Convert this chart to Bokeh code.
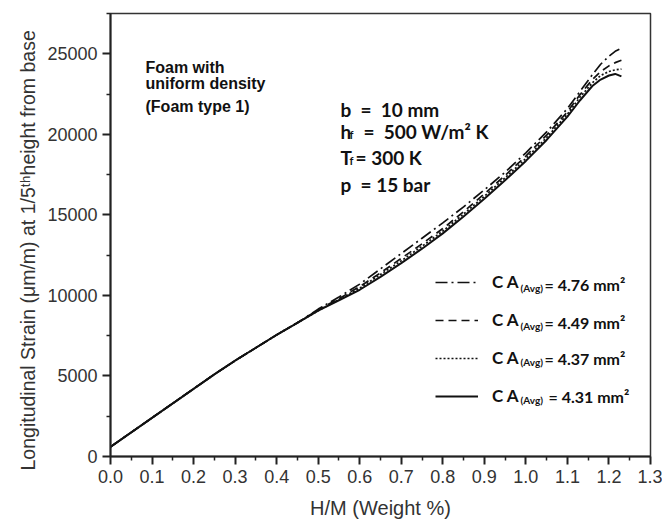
from bokeh.plotting import figure
from bokeh.models import (Range1d, Legend, LegendItem, Label, FixedTicker,
                          NumeralTickFormatter, Title)
from bokeh.embed import file_html
from bokeh.resources import INLINE

# H/M content (weight %)
hm = [0.0, 0.05, 0.1, 0.15, 0.2, 0.25, 0.3, 0.35, 0.4, 0.45, 0.5, 0.55, 0.6,
      0.65, 0.7, 0.75, 0.8, 0.85, 0.9, 0.95, 1.0, 1.05, 1.1, 1.13, 1.16,
      1.18, 1.2, 1.215, 1.23]

# Longitudinal strain (micro-strain) for each average cross-section area
strain_476 = [600, 1500, 2400, 3300, 4200, 5100, 5950, 6750, 7550, 8300, 9150,
              9900, 10700, 11650, 12600, 13550, 14500, 15500, 16550, 17650,
              18850, 20150, 21600, 22650, 23700, 24350, 24850, 25150, 25350]
strain_449 = [600, 1500, 2400, 3300, 4200, 5100, 5950, 6750, 7550, 8300, 9100,
              9800, 10550, 11400, 12300, 13200, 14150, 15200, 16300, 17450,
              18650, 19950, 21400, 22450, 23400, 23900, 24250, 24450, 24600]
strain_437 = [600, 1500, 2400, 3300, 4200, 5100, 5950, 6750, 7550, 8300, 9050,
              9750, 10450, 11300, 12150, 13050, 14000, 15050, 16150, 17300,
              18500, 19800, 21250, 22300, 23200, 23650, 23900, 24000, 24050]
strain_431 = [600, 1500, 2400, 3300, 4200, 5100, 5950, 6750, 7550, 8300, 9050,
              9700, 10350, 11150, 12000, 12900, 13850, 14900, 16000, 17150,
              18350, 19650, 21100, 22100, 23000, 23400, 23650, 23750, 23600]

areas = ["4.76", "4.49", "4.37", "4.31"]
dashes = ["12 4 2 4", "8 5", "2 2", "solid"]

x_ticks = [0.0, 0.1, 0.2, 0.3, 0.4, 0.5, 0.6, 0.7, 0.8, 0.9, 1.0, 1.1, 1.2, 1.3]
x_minor = [0.05, 0.15, 0.25, 0.35, 0.45, 0.55, 0.65, 0.75, 0.85, 0.95, 1.05,
           1.15, 1.25]
y_ticks = [0, 5000, 10000, 15000, 20000, 25000]
y_minor = [2500, 7500, 12500, 17500, 22500, 27500]

W, H = 662, 524
LEFT, RIGHT, TOP, BOTTOM = 110, 12, 13, 68
FRAME_BOTTOM = H - BOTTOM
NBSP = "\u00a0"

p = figure(width=W, height=H, output_backend="svg", toolbar_location=None,
           x_range=Range1d(0, 1.3), y_range=Range1d(0, 27500),
           min_border_left=LEFT, min_border_right=RIGHT,
           min_border_top=TOP, min_border_bottom=BOTTOM)
p.grid.visible = False
p.outline_line_color = "#333333"
p.outline_line_width = 1.5
p.background_fill_color = "white"
p.border_fill_color = "white"

for ax in (p.xaxis[0], p.yaxis[0]):
    ax.axis_line_width = 2
    ax.axis_line_color = "#222222"
    ax.major_tick_out = 8
    ax.major_tick_in = 0
    ax.minor_tick_out = 4
    ax.minor_tick_in = 0
    ax.major_tick_line_width = 2
    ax.minor_tick_line_width = 1.5
    ax.major_tick_line_color = "#222222"
    ax.minor_tick_line_color = "#222222"
    ax.major_label_text_font = "Liberation Sans"
    ax.major_label_text_font_size = "18px"
    ax.major_label_text_color = "#333333"
    ax.major_label_standoff = 5

p.xaxis.ticker = FixedTicker(ticks=x_ticks, minor_ticks=x_minor)
p.xaxis.formatter = NumeralTickFormatter(format="0.0")
p.yaxis.ticker = FixedTicker(ticks=y_ticks, minor_ticks=y_minor)
p.yaxis.formatter = NumeralTickFormatter(format="0")

p.xaxis.axis_label = "H/M (Weight %)"
p.xaxis.axis_label_text_font = "Liberation Sans"
p.xaxis.axis_label_text_font_size = "20px"
p.xaxis.axis_label_text_font_style = "normal"
p.xaxis.axis_label_text_color = "#333333"
p.xaxis.axis_label_standoff = 11

# Vertical title on the left, starting a little below the frame bottom
p.add_layout(Title(text="Longitudinal Strain (\u03bcm/m) at 1/5\u1d57\u02b0height from base",
                   align="left", offset=-14, standoff=12,
                   text_font="Liberation Sans", text_font_size="19.5px",
                   text_font_style="normal", text_color="#333333"), "left")

series = [strain_476, strain_449, strain_437, strain_431]
renderers = []
for ys, dash in zip(series, dashes):
    r = p.line(hm, ys, line_color="#111111",
               line_width=2 if dash == "solid" else 1.7, line_dash=dash)
    renderers.append(r)

legend = Legend(items=[LegendItem(label="C A", renderers=[r]) for r in renderers],
                location=(325, 50), glyph_width=43, glyph_height=20,
                label_height=20, spacing=17, padding=0, margin=0,
                label_standoff=14, border_line_alpha=0,
                background_fill_alpha=0, label_text_font="Lato",
                label_text_font_style="bold", label_text_font_size="17px",
                label_text_color="#111111")
p.add_layout(legend)


def text_at(txt, cx, cy, size, font="Lato", style="bold", align="left",
            color="#111111"):
    """Place text by canvas pixel (origin top-left), converted to frame units."""
    p.add_layout(Label(x=cx - LEFT, y=FRAME_BOTTOM - cy, x_units="screen",
                       y_units="screen", text=txt, text_font=font,
                       text_font_style=style, text_font_size=f"{size}px",
                       text_align=align, text_baseline="alphabetic",
                       text_color=color))


# Foam description
text_at("Foam with", 145, 67, 16, font="Liberation Sans")
text_at("uniform density", 145, 83, 16, font="Liberation Sans")
text_at("(Foam type 1)", 145, 106, 16, font="Liberation Sans")

# Operating parameters
text_at(f"b {NBSP}={NBSP} 10 mm", 340, 109, 19)
text_at("h", 340, 131, 19)
text_at("f", 349, 134, 11)
text_at(f"= {NBSP}500 W/m\u00b2 K", 363, 131, 19)
text_at("T", 340, 157, 19)
text_at("f", 349, 160, 11)
text_at("= 300 K", 355, 157, 19)
text_at(f"p {NBSP}= 15 bar", 340, 184, 19)

# Legend label subscripts and values
row_base = [284, 322, 358, 396]
for i, (area, yb) in enumerate(zip(areas, row_base)):
    text_at("(Avg)", 520, yb + 3, 10)
    text_at(f"= {area} mm\u00b2", 548 if i == 3 else 544, yb, 16)

open("out.html", "w").write(file_html(p, INLINE))
